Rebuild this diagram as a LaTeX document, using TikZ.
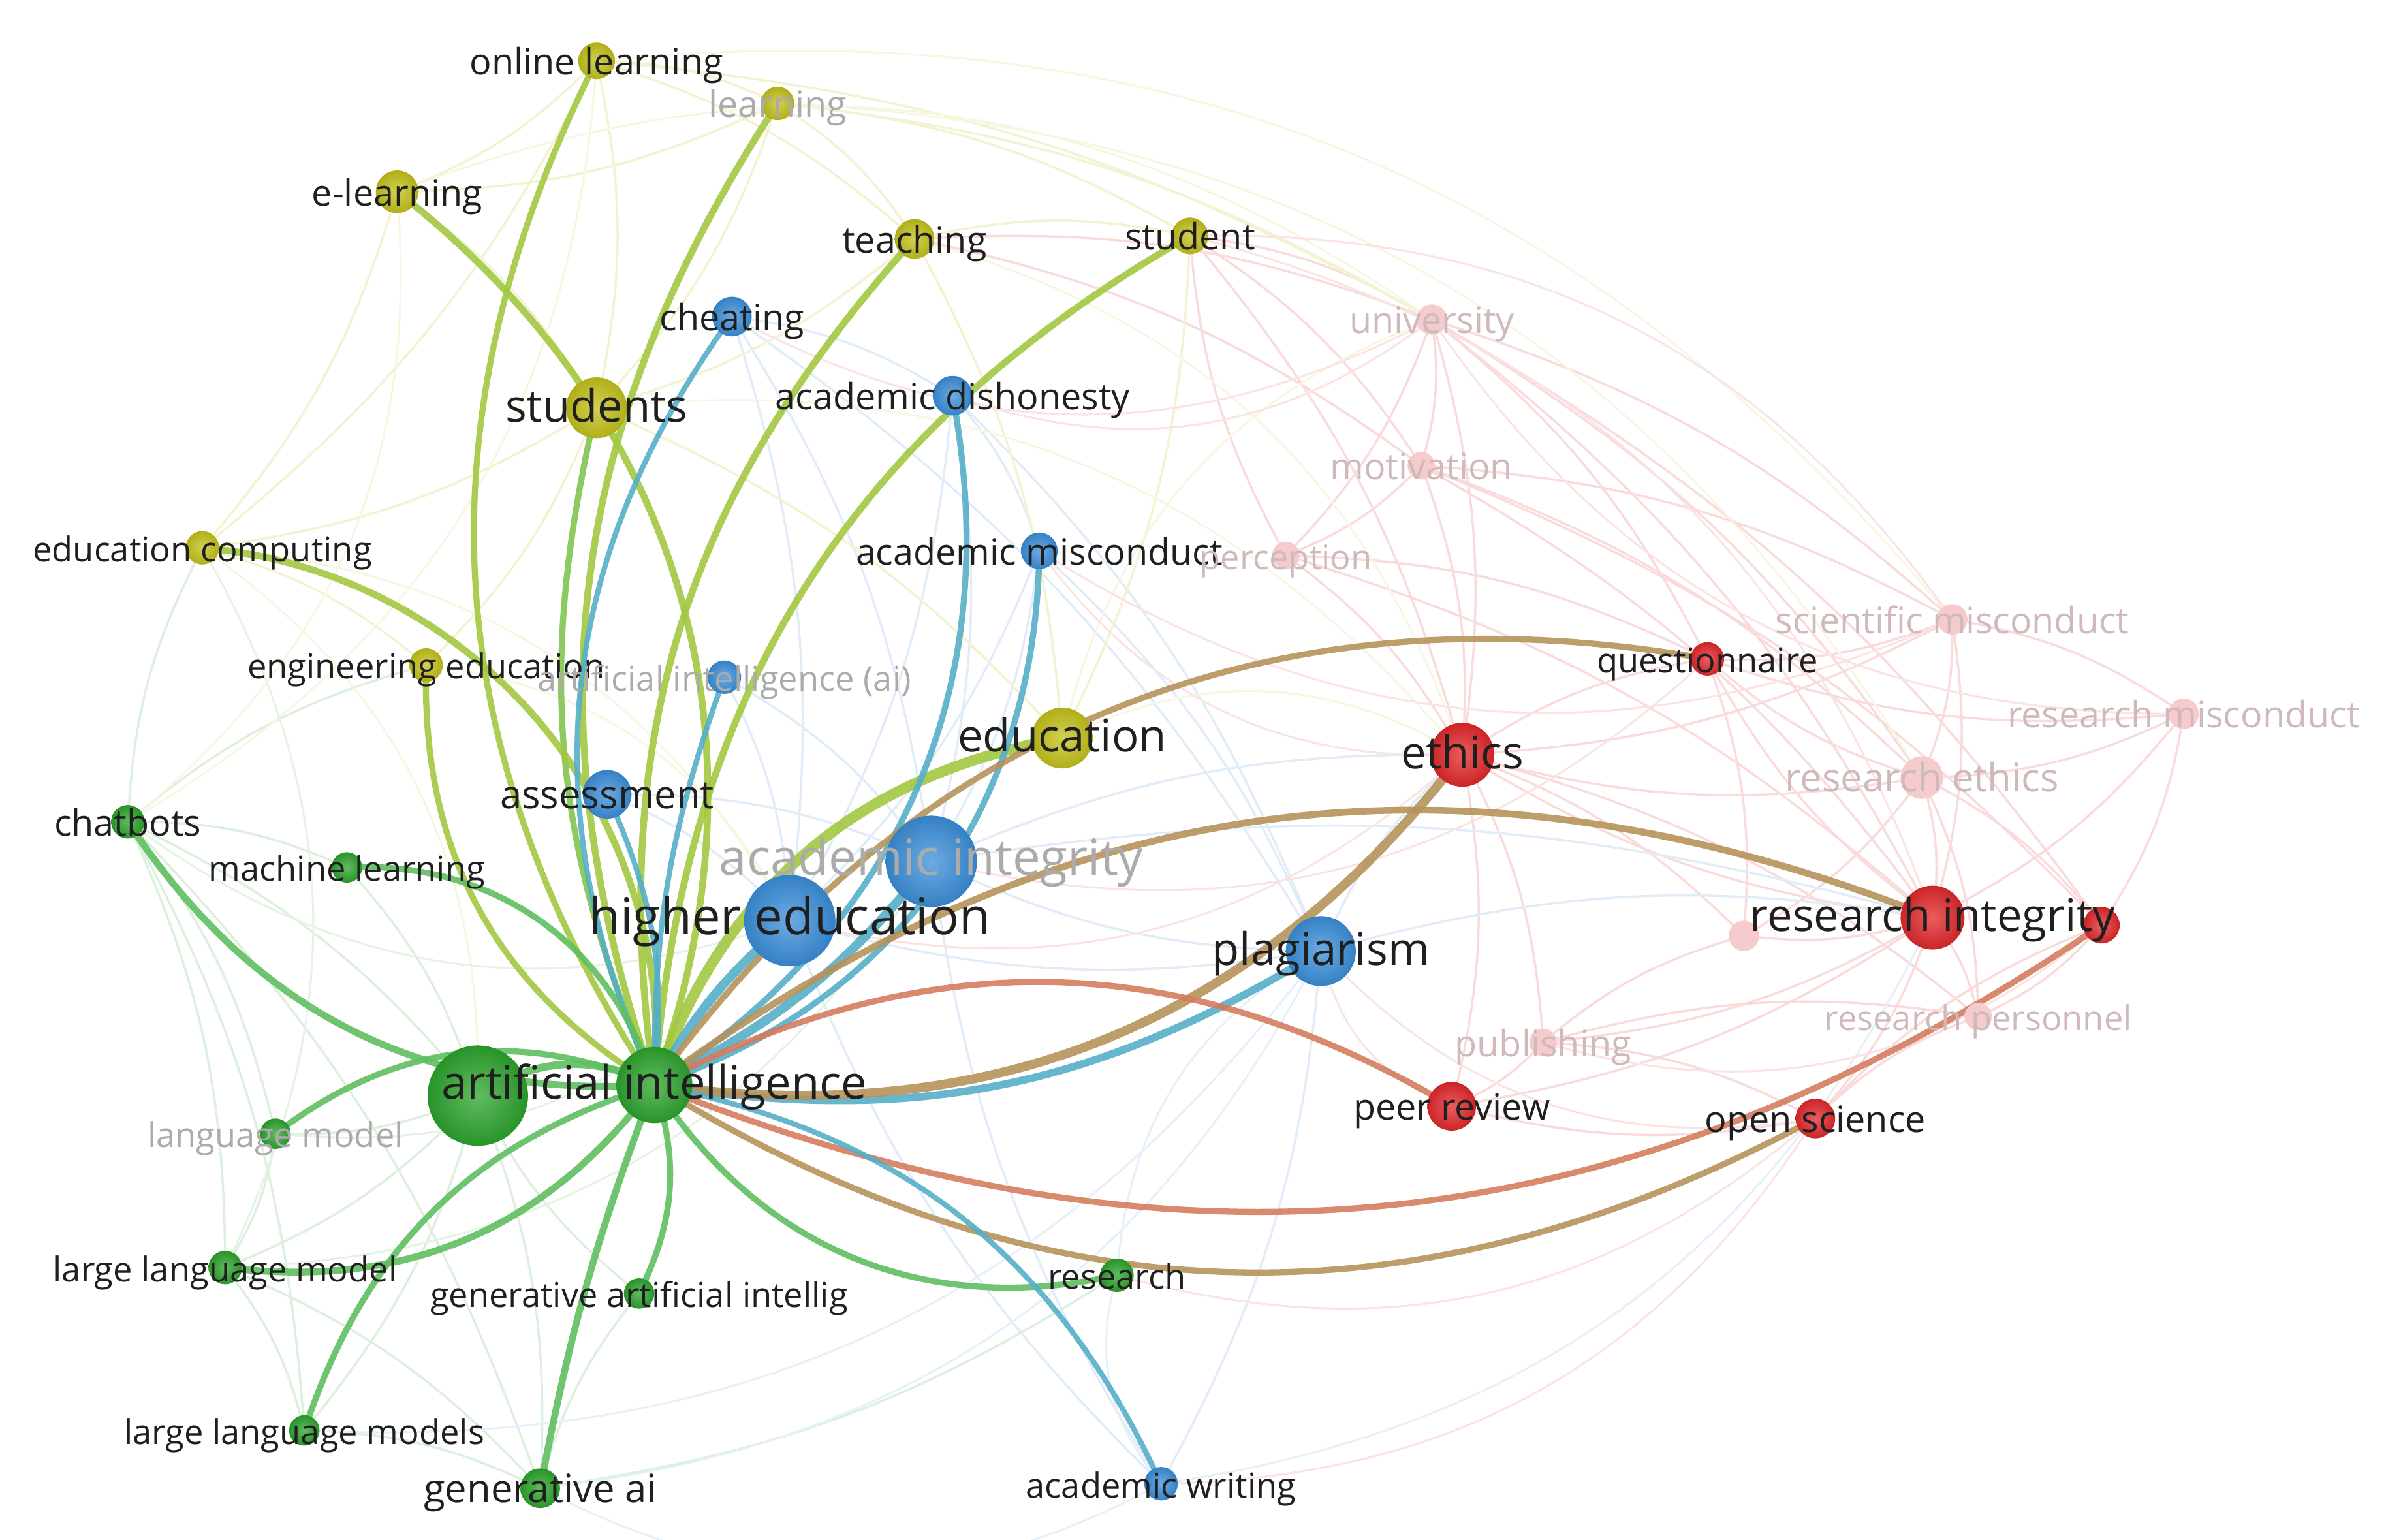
\documentclass[tikz,border=0pt]{standalone}
\usepackage{fontspec}
\setmainfont{Open Sans}
\usetikzlibrary{positioning}

\definecolor{kwyellow}{HTML}{C4C21A}
\definecolor{kwgreen}{HTML}{2DA42D}
\definecolor{kwblue}{HTML}{3B8FDA}
\definecolor{kwred}{HTML}{E2282B}
\definecolor{kwpink}{HTML}{F5CBCD}
\definecolor{kwgray}{HTML}{ABABAB}
\definecolor{kwfade}{HTML}{CFB9BB}
\definecolor{lgg}{HTML}{5FBF5F}
\definecolor{lgy}{HTML}{A2C840}
\definecolor{lgb}{HTML}{55AEC8}
\definecolor{lgo}{HTML}{B6925A}
\definecolor{lgr}{HTML}{D47C5E}

\pgfdeclarelayer{faint}
\pgfdeclarelayer{links}
\pgfsetlayers{faint,links,main}

\begin{document}
\begin{tikzpicture}[
    x=0.1mm, y=-0.1mm,
    kw/.style={circle, inner sep=0pt, minimum size=0.2mm*#1},
    ynode/.style={kw=#1, inner color=kwyellow!75!white, outer color=kwyellow!90!black},
    gnode/.style={kw=#1, inner color=kwgreen!75!white, outer color=kwgreen!90!black},
    bnode/.style={kw=#1, inner color=kwblue!75!white, outer color=kwblue!90!black},
    rnode/.style={kw=#1, inner color=kwred!75!white, outer color=kwred!90!black},
    pnode/.style={kw=#1, fill=kwpink},
    lbl/.style={inner sep=0pt, text height=0.72em, text depth=0.2em, text=black!88, font=\fontsize{6.8}{8}\selectfont},
    lblt/.style={lbl, font=\fontsize{6.4}{8}\selectfont},
    lbls/.style={lbl, font=\fontsize{7.3}{9}\selectfont},
    lblm/.style={lbl, font=\fontsize{8.4}{10}\selectfont},
    lbll/.style={lbl, font=\fontsize{9.3}{11}\selectfont},
    fadeg/.style={text=kwgray},
    fader/.style={text=kwfade},
    faint/.style={line width=0.15mm, bend left=12},
    faintarc/.style={line width=0.13mm, bend left=28},
    link/.style={line width=0.4mm, line cap=round, opacity=0.9}
]
\useasboundingbox (0,0) rectangle (1568,1012);

% Yellow cluster
\node (olearn) [ynode=12] at (392,40) {};
\node (learn) [ynode=11] at (511,68) {};
\node (elearn) [ynode=14] at (261,126) {};
\node (teach) [ynode=13] at (601,157) {};
\node (student) [ynode=12] at (782,155) {};
\node (students) [ynode=20] at (392,268) {};
\node (edcomp) [ynode=11] at (133,360) {};
\node (engedu) [ynode=11] at (280,437) {};
\node (educ) [ynode=20] at (698,485) {};

% Blue cluster
\node (cheat) [bnode=13] at (481,208) {};
\node (acdish) [bnode=13] at (626,260) {};
\node (acmisc) [bnode=12] at (683,362) {};
\node (aiai) [bnode=11] at (476,445) {};
\node (assess) [bnode=16] at (399,522) {};
\node (acint) [bnode=30] at (612,566) {};
\node (hiedu) [bnode=30] at (519,605) {};
\node (plag) [bnode=23] at (868,625) {};
\node (acwrite) [bnode=11] at (763,975) {};

% Green cluster
\node (chatb) [gnode=11] at (84,540) {};
\node (mlearn) [gnode=10] at (228,570) {};
\node (gbig) [gnode=33] at (314,720) {};
\node (ai) [gnode=25] at (430,713) {};
\node (langm) [gnode=10] at (181,745) {};
\node (llm) [gnode=11] at (148,833) {};
\node (genaiint) [gnode=10] at (420,850) {};
\node (llms) [gnode=10] at (200,940) {};
\node (genai) [gnode=13] at (355,978) {};
\node (research) [gnode=11] at (734,838) {};

% Red cluster
\node (univ) [pnode=10] at (941,210) {};
\node (motiv) [pnode=9] at (934,306) {};
\node (percep) [pnode=9] at (845,365) {};
\node (scimis) [pnode=10] at (1283,407) {};
\node (resmis) [pnode=10] at (1435,469) {};
\node (reseth) [pnode=14] at (1263,511) {};
\node (pinksm) [pnode=10] at (1146,615) {};
\node (publ) [pnode=9] at (1014,685) {};
\node (respers) [pnode=9] at (1300,668) {};
\node (quest) [rnode=11] at (1122,433) {};
\node (ethics) [rnode=21] at (961,496) {};
\node (resint) [rnode=21] at (1270,603) {};
\node (redsm) [rnode=12] at (1381,608) {};
\node (peer) [rnode=16] at (954,727) {};
\node (opensci) [rnode=13] at (1193,735) {};

% Background links
\begin{pgfonlayer}{faint}
\foreach \a/\b in {univ/motiv, univ/percep, univ/ethics, univ/reseth, univ/scimis, univ/quest, univ/resint,
    motiv/percep, motiv/ethics, motiv/reseth, motiv/resint, motiv/scimis, percep/ethics, percep/quest,
    percep/resint, scimis/resmis, scimis/reseth, scimis/resint, scimis/quest, scimis/ethics, resmis/reseth,
    resmis/resint, resmis/redsm, resmis/quest, reseth/resint, reseth/ethics, reseth/quest, reseth/respers,
    reseth/pinksm, reseth/redsm, resint/respers, resint/publ, resint/pinksm, resint/ethics, resint/peer,
    resint/opensci, resint/quest, ethics/quest, ethics/peer, ethics/publ, ethics/pinksm, ethics/respers,
    publ/peer, publ/opensci, publ/respers, publ/pinksm, opensci/respers, opensci/peer, opensci/redsm,
    redsm/respers, quest/pinksm, student/univ, student/motiv, student/ethics, teach/univ, teach/motiv,
    percep/student, univ/redsm, motiv/redsm}
  \draw[faint, kwred!17] (\a.center) to (\b.center);
\foreach \a/\b in {cheat/acdish, cheat/acint, cheat/hiedu, acdish/acint, acdish/acmisc, acdish/hiedu,
    acmisc/acint, acmisc/hiedu, acmisc/plag, plag/acwrite, acwrite/hiedu, acwrite/acint, assess/hiedu,
    assess/acint, aiai/hiedu, aiai/acint, plag/acint, plag/hiedu, plag/resint, plag/ethics, acint/ethics,
    acint/resint, acdish/plag, cheat/plag}
  \draw[faint, kwblue!16] (\a.center) to (\b.center);
\foreach \a/\b in {olearn/learn, olearn/elearn, olearn/students, olearn/teach, olearn/edcomp, learn/teach,
    learn/students, learn/student, learn/elearn, teach/student, teach/students, elearn/students,
    elearn/edcomp, students/educ, students/edcomp, students/engedu, edcomp/engedu, student/educ,
    teach/educ, learn/univ, olearn/univ}
  \draw[faint, kwyellow!20] (\a.center) to (\b.center);
\foreach \a/\b in {chatb/langm, chatb/llm, chatb/llms, chatb/genai, chatb/mlearn, chatb/gbig, langm/llm,
    llm/llms, llms/genai, genai/genaiint, gbig/genai, gbig/llms, gbig/llm, gbig/langm, mlearn/gbig,
    chatb/edcomp, llm/genai, genaiint/gbig, research/genai, chatb/engedu}
  \draw[faint, kwgreen!16] (\a.center) to (\b.center);
% wide arcs between clusters
\foreach \a/\b/\c in {olearn/scimis/kwyellow, learn/reseth/kwyellow, elearn/univ/kwyellow,
    teach/ethics/kwyellow, student/scimis/kwred, student/resint/kwred, students/ethics/kwyellow,
    educ/univ/kwyellow, educ/ethics/kwyellow, edcomp/hiedu/kwyellow, edcomp/gbig/kwyellow,
    olearn/chatb/kwyellow, elearn/chatb/kwyellow, edcomp/llm/kwgreen, engedu/hiedu/kwyellow,
    hiedu/chatb/kwgreen, acint/llm/kwgreen, hiedu/langm/kwgreen, plag/llms/kwblue, acwrite/genai/kwblue,
    plag/genai/kwblue, research/plag/kwblue, acwrite/research/kwblue, resint/acwrite/kwblue,
    opensci/acwrite/kwred, opensci/plag/kwred, peer/plag/kwred, ethics/hiedu/kwred, quest/acint/kwred,
    univ/cheat/kwred, univ/acdish/kwred, ethics/acmisc/kwred, scimis/acmisc/kwred, resmis/univ/kwred,
    redsm/publ/kwred, opensci/research/kwred}
  \draw[faintarc, \c!13] (\a.center) to (\b.center);
\end{pgfonlayer}

% Links of artificial intelligence
\begin{pgfonlayer}{links}
\draw[link, lgy] (ai.center) to[bend left=30] (olearn.center);
\draw[link, lgy, line width=0.45mm] (ai.center) to[bend left=26] (learn.center);
\draw[link, lgy, line width=0.45mm] (ai.center) to[bend right=36] (elearn.center);
\draw[link, lgy, line width=0.45mm] (ai.center) to[bend left=25] (teach.center);
\draw[link, lgy, line width=0.45mm] (ai.center) to[bend left=28] (student.center);
\draw[link, lgg!50!lgy] (ai.center) to[bend left=18] (students.center);
\draw[link, lgy, line width=0.45mm] (ai.center) to[bend right=45] (edcomp.center);
\draw[link, lgy] (ai.center) to[bend left=30] (engedu.center);
\draw[link, lgy, line width=0.7mm] (ai.center) to[bend left=30] (educ.center);
\draw[link, lgb, line width=0.35mm] (ai.center) to[bend left=30] (cheat.center);
\draw[link, lgb] (ai.center) to[bend right=34] (acdish.center);
\draw[link, lgb] (ai.center) to[bend right=35] (acmisc.center);
\draw[link, lgb, line width=0.35mm] (ai.center) to[bend left=10] (aiai.center);
\draw[link, lgb, line width=0.35mm] (ai.center) to[bend right=15] (assess.center);
\draw[link, lgb, line width=0.6mm] (ai.center) to[bend right=12] (acint.center);
\draw[link, lgb, line width=0.6mm] (ai.center) to[bend left=10] (hiedu.center);
\draw[link, lgb, line width=0.5mm] (ai.center) to[bend right=20] (plag.center);
\draw[link, lgo, line width=0.6mm] (ai.center) to[bend right=30] (ethics.center);
\draw[link, lgo] (ai.center) to[bend left=32] (quest.center);
\draw[link, lgo, line width=0.45mm] (ai.center) to[bend left=29] (resint.center);
\draw[link, lgr] (ai.center) to[bend left=29] (peer.center);
\draw[link, lgo] (ai.center) to[bend right=30] (opensci.center);
\draw[link, lgr] (ai.center) to[bend right=28] (redsm.center);
\draw[link, lgg] (ai.center) to[bend right=35] (research.center);
\draw[link, lgb, line width=0.35mm] (ai.center) to[bend left=27] (acwrite.center);
\draw[link, lgg, line width=0.45mm] (ai.center) to[bend left=30] (chatb.center);
\draw[link, lgg] (ai.center) to[bend right=38] (mlearn.center);
\draw[link, lgg, line width=0.5mm] (ai.center) to[bend right=30] (gbig.center);
\draw[link, lgg] (ai.center) to[bend right=30] (langm.center);
\draw[link, lgg, line width=0.45mm] (ai.center) to[bend left=30] (llm.center);
\draw[link, lgg] (ai.center) to[bend right=27] (llms.center);
\draw[link, lgg, line width=0.45mm] (ai.center) to[bend right=5] (genai.center);
\draw[link, lgg] (ai.center) to[bend left=22] (genaiint.center);
\end{pgfonlayer}

% Labels
\node (olearn-l) [lbl] at (olearn) {online learning};
\node (learn-l) [lbl, fadeg] at (learn) {learning};
\node (elearn-l) [lbl] at (elearn) {e-learning};
\node (teach-l) [lbl] at (teach) {teaching};
\node (student-l) [lbl] at (student) {student};
\node (students-l) [lblm] at (students) {students};
\node (edcomp-l) [lblt] at (edcomp) {education computing};
\node (engedu-l) [lblt] at (engedu) {engineering education};
\node (educ-l) [lblm] at (educ) {education};
\node (cheat-l) [lbl] at (cheat) {cheating};
\node (acdish-l) [lbl] at (acdish) {academic dishonesty};
\node (acmisc-l) [lbl] at (acmisc) {academic misconduct};
\node (aiai-l) [lblt, fadeg] at (aiai) {artificial intelligence (ai)};
\node (assess-l) [lbls] at (assess) {assessment};
\node (acint-l) [lbll, fadeg] at (acint) {academic integrity};
\node (hiedu-l) [lbll, font=\fontsize{9.5}{11}\selectfont] at (hiedu) {higher education};
\node (plag-l) [lblm] at (plag) {plagiarism};
\node (acwrite-l) [lblt] at (acwrite) {academic writing};
\node (chatb-l) [lbl] at (chatb) {chatbots};
\node (mlearn-l) [lblt] at (mlearn) {machine learning};
\node (ai-l) [lbll, font=\fontsize{8.6}{10}\selectfont] at (ai) {artificial intelligence};
\node (langm-l) [lblt, fadeg] at (langm) {language model};
\node (llm-l) [lblt] at (llm) {large language model};
\node (genaiint-l) [lblt] at (genaiint) {generative artificial intellig};
\node (llms-l) [lblt] at (llms) {large language models};
\node (genai-l) [lbls] at (genai) {generative ai};
\node (research-l) [lblt] at (research) {research};
\node (univ-l) [lbl, fader] at (univ) {university};
\node (motiv-l) [lbl, fader] at (motiv) {motivation};
\node (percep-l) [lblt, fader] at (percep) {perception};
\node (scimis-l) [lbl, fader] at (scimis) {scientific misconduct};
\node (resmis-l) [lbl, fader] at (resmis) {research misconduct};
\node (reseth-l) [lbls, fader] at (reseth) {research ethics};
\node (publ-l) [lbl, fader] at (publ) {publishing};
\node (respers-l) [lblt, fader] at (respers) {research personnel};
\node (quest-l) [lblt] at (quest) {questionnaire};
\node (ethics-l) [lblm] at (ethics) {ethics};
\node (resint-l) [lblm] at (resint) {research integrity};
\node (peer-l) [lbl] at (peer) {peer review};
\node (opensci-l) [lbl] at (opensci) {open science};

\end{tikzpicture}
\end{document}
